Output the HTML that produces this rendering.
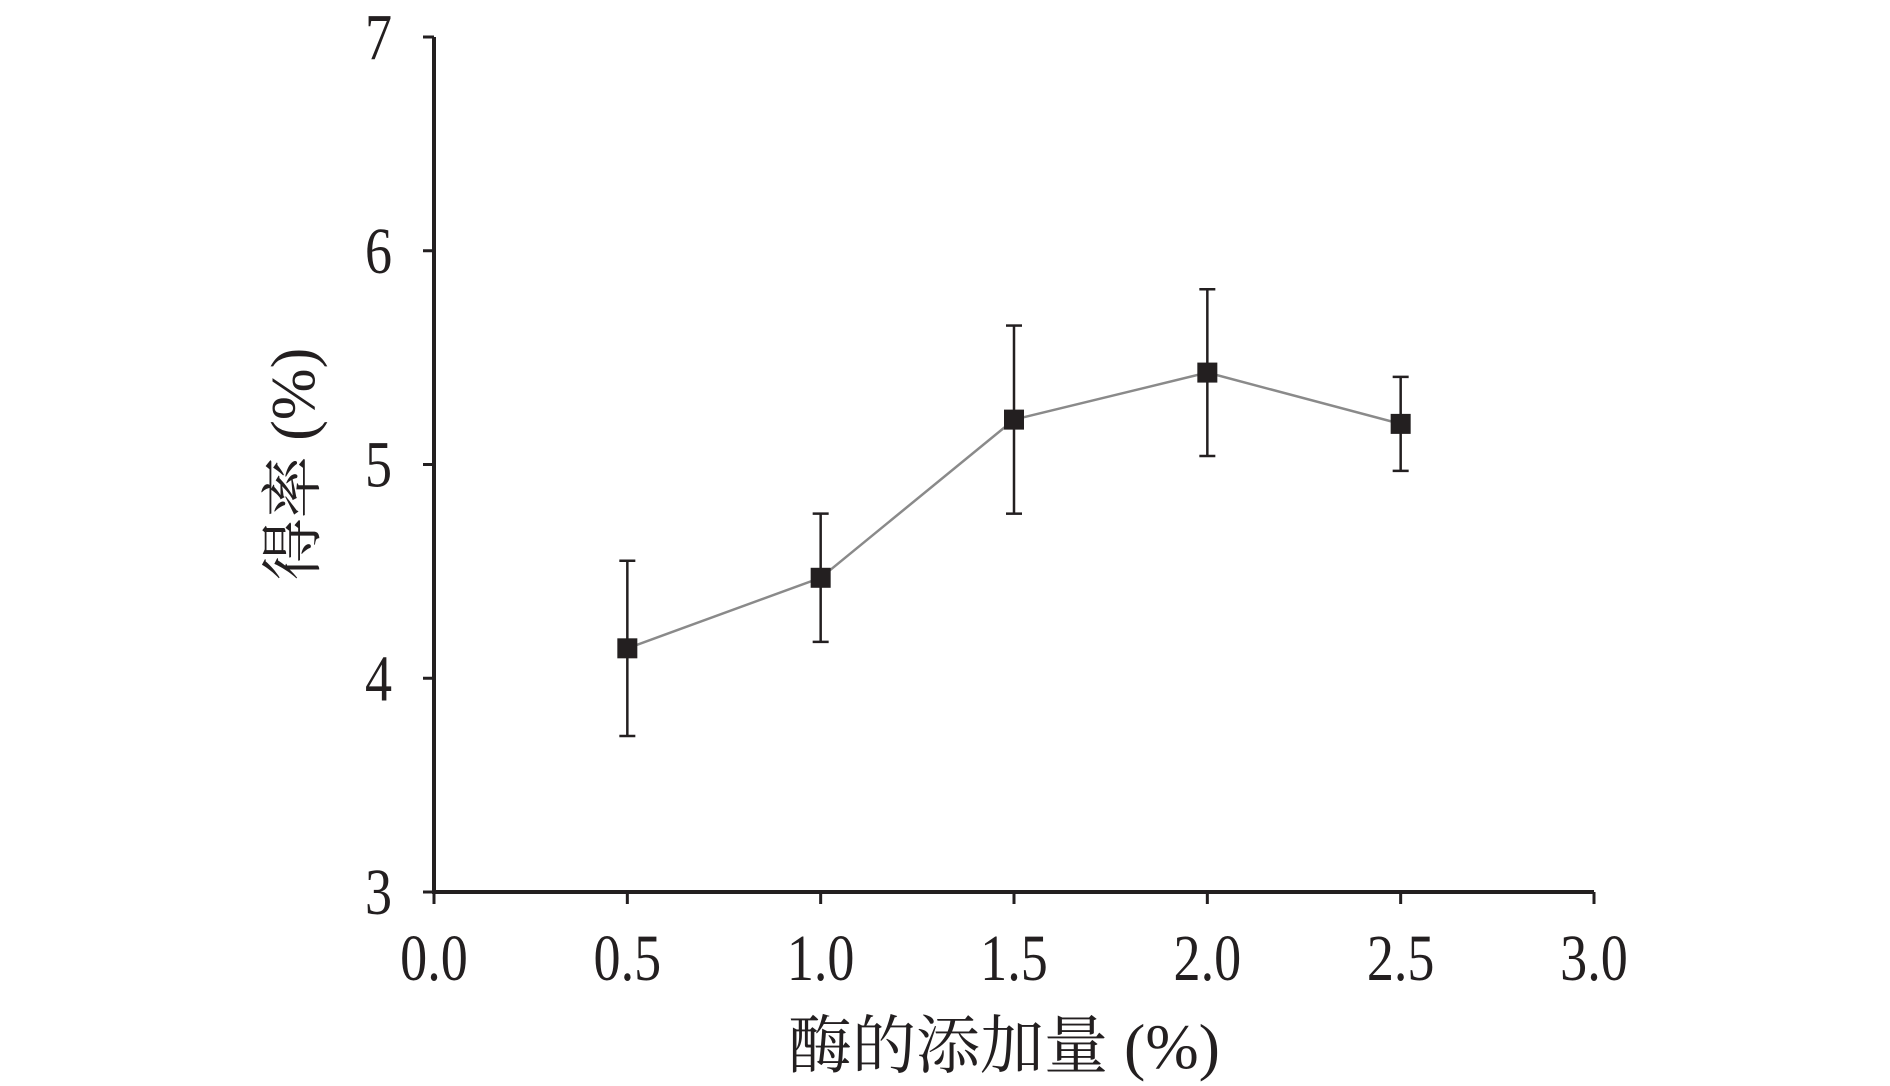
<!DOCTYPE html>
<html><head><meta charset="utf-8"><style>
html,body{margin:0;padding:0;background:#fff;}
svg{display:block;}
text{font-family:"Liberation Serif","Noto Serif CJK SC",serif;fill:#231f20;}
</style></head><body>
<svg id="chart" width="1890" height="1086" viewBox="0 0 1890 1086" xmlns="http://www.w3.org/2000/svg">
<g id="axes"></g>
<g id="series"></g>
<text x="1004" y="1068" font-size="64" text-anchor="middle">酶的添加量 (%)</text>
<text transform="translate(314,464) rotate(-90)" font-size="62" text-anchor="middle">得率 (%)</text>
</svg>
<script>
const categories=[0.5,1.0,1.5,2.0,2.5];
const values=[4.14,4.47,5.21,5.43,5.19];
const errLow=[3.73,4.17,4.77,5.04,4.97];
const errHigh=[4.55,4.77,5.65,5.82,5.41];
const xTicks=["0.0","0.5","1.0","1.5","2.0","2.5","3.0"];
const yTicks=["3","4","5","6","7"];
const NS="http://www.w3.org/2000/svg";
function X(v){return 434+(v-0)*(1594-434)/3;}
function Y(v){return 892-(v-3)*(892-37)/4;}
function mk(tag,attrs,parent){const e=document.createElementNS(NS,tag);for(const k in attrs)e.setAttribute(k,attrs[k]);parent.appendChild(e);return e;}
const ax=document.getElementById('axes'),se=document.getElementById('series');
let e=mk('line',{x1:X(0),y1:Y(3),x2:X(3),y2:Y(3),stroke:'#231f20','stroke-width':4},ax);


e=mk('line',{x1:X(0),y1:Y(3)+2,x2:X(0),y2:Y(7),stroke:'#231f20','stroke-width':4},ax);


xTicks.forEach(function(t){const v=parseFloat(t);
 let l=mk('line',{x1:X(v),y1:Y(3),x2:X(v),y2:Y(3)+12,stroke:'#231f20','stroke-width':3},ax);
 
 
 let tx=mk('text',{x:0,y:0,'font-size':66,'text-anchor':'middle',transform:'translate('+X(v)+',980) scale(0.82,1)'},ax);
 tx.textContent=t;
 
 
});
yTicks.forEach(function(t){const v=parseFloat(t);
 let l=mk('line',{x1:X(0)-11,y1:Y(v),x2:X(0),y2:Y(v),stroke:'#231f20','stroke-width':3},ax);
 
 
 let tx=mk('text',{x:0,y:0,'font-size':66,'text-anchor':'end',transform:'translate(392,'+(Y(v)+22)+') scale(0.82,1)'},ax);
 tx.textContent=t;
 
 
});
let pts=categories.map(function(c,i){return X(c)+','+Y(values[i]);}).join(' ');
let pl=mk('polyline',{points:pts,fill:'none',stroke:'#8a8a8a','stroke-width':2.5},se);


categories.forEach(function(c,i){const x=X(c);
 let g=mk('g',{},se);
 
 
 mk('line',{x1:x,y1:Y(errLow[i]),x2:x,y2:Y(errHigh[i]),stroke:'#231f20','stroke-width':2.5},g);
 mk('line',{x1:x-8,y1:Y(errLow[i]),x2:x+8,y2:Y(errLow[i]),stroke:'#231f20','stroke-width':2.5},g);
 mk('line',{x1:x-8,y1:Y(errHigh[i]),x2:x+8,y2:Y(errHigh[i]),stroke:'#231f20','stroke-width':2.5},g);
 let r=mk('rect',{x:x-10,y:Y(values[i])-10,width:20,height:20,fill:'#231f20'},se);
 
 
});
</script>
</body></html>
